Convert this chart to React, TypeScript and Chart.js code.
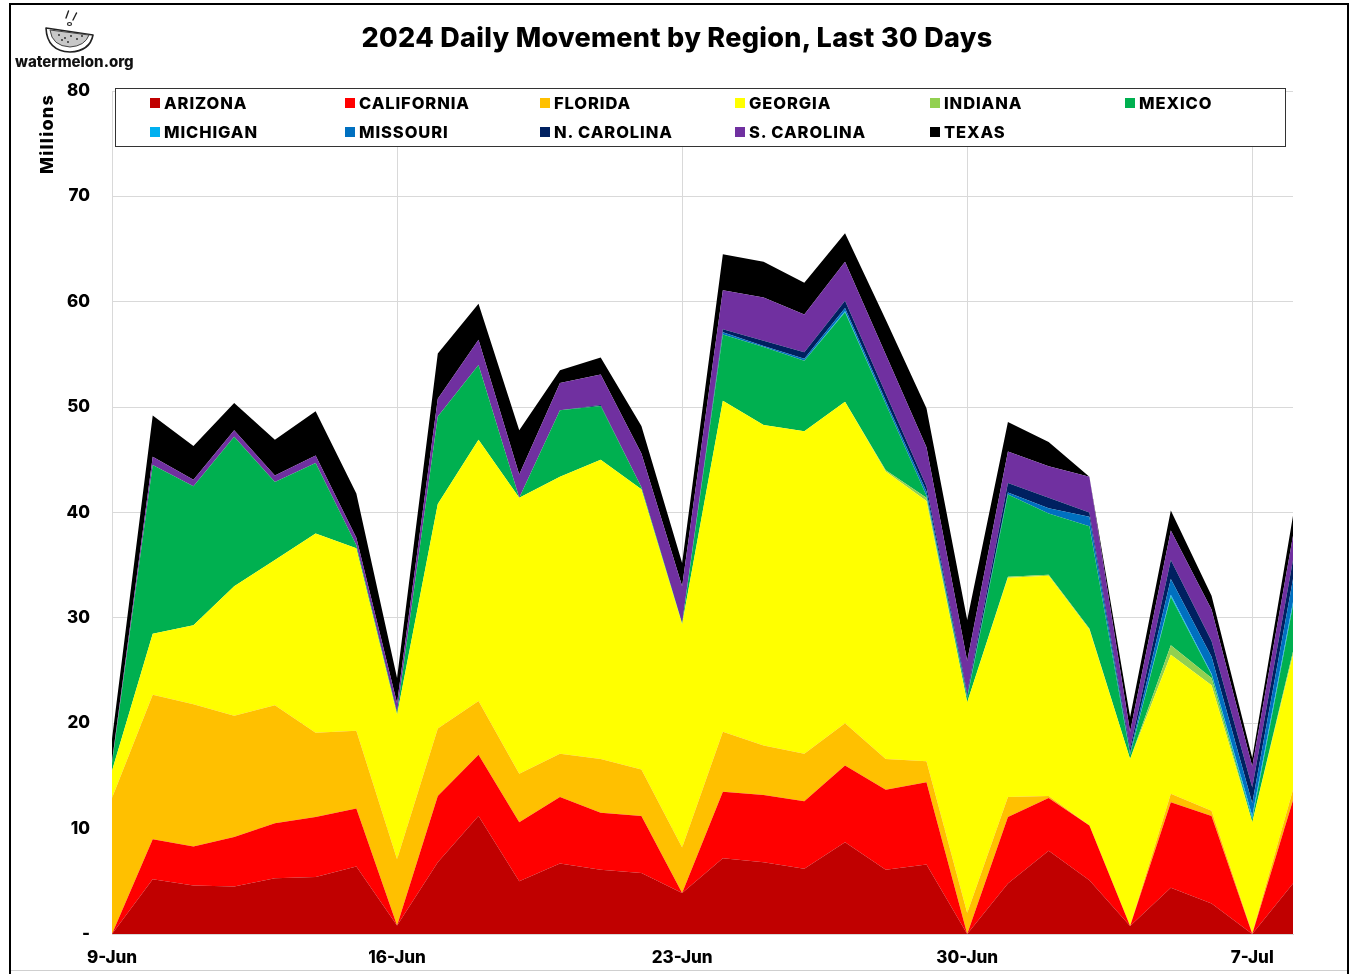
import React, { useEffect, useRef } from 'react';
import { Chart, registerables } from 'chart.js';

Chart.register(...registerables);

const LABELS = [
  '9-Jun', '10-Jun', '11-Jun', '12-Jun', '13-Jun', '14-Jun', '15-Jun',
  '16-Jun', '17-Jun', '18-Jun', '19-Jun', '20-Jun', '21-Jun', '22-Jun',
  '23-Jun', '24-Jun', '25-Jun', '26-Jun', '27-Jun', '28-Jun', '29-Jun',
  '30-Jun', '1-Jul', '2-Jul', '3-Jul', '4-Jul', '5-Jul', '6-Jul',
  '7-Jul', '8-Jul',
];
const LABEL_EVERY = 7;

const REGIONS = [
  'ARIZONA', 'CALIFORNIA', 'FLORIDA', 'GEORGIA', 'INDIANA', 'MEXICO',
  'MICHIGAN', 'MISSOURI', 'N. CAROLINA', 'S. CAROLINA', 'TEXAS',
];
const COLORS = [
  '#C00000', '#FF0000', '#FFC000', '#FFFF00', '#92D050', '#00B050',
  '#00B0F0', '#0070C0', '#002060', '#7030A0', '#000000',
];

// values in millions
const ARIZONA = [0, 5.2, 4.6, 4.5, 5.3, 5.4, 6.4, 0.8, 6.8, 11.2, 5.0, 6.7, 6.1, 5.8, 3.9, 7.2, 6.8, 6.2, 8.7, 6.1, 6.6, 0, 4.8, 7.9, 5.1, 0.75, 4.4, 2.9, 0, 4.8];
const CALIFORNIA = [0, 3.8, 3.7, 4.7, 5.2, 5.7, 5.5, 0, 6.3, 5.8, 5.6, 6.3, 5.4, 5.4, 0, 6.3, 6.4, 6.4, 7.3, 7.6, 7.8, 0, 6.3, 5.0, 5.2, 0, 8.1, 8.3, 0, 7.9];
const FLORIDA = [12.9, 13.7, 13.5, 11.5, 11.2, 8.0, 7.4, 6.3, 6.4, 5.1, 4.6, 4.1, 5.1, 4.4, 4.3, 5.7, 4.7, 4.5, 4.0, 2.9, 2.0, 2.0, 1.9, 0.2, 0, 0, 0.8, 0.5, 0.1, 1.0];
const GEORGIA = [2.6, 5.8, 7.5, 12.3, 13.8, 18.9, 17.3, 13.7, 21.3, 24.8, 26.2, 26.3, 28.4, 26.6, 21.2, 31.4, 30.4, 30.6, 30.5, 27.3, 24.7, 20.0, 20.8, 20.9, 18.6, 15.85, 13.2, 11.9, 10.5, 12.8];
const INDIANA = [0, 0, 0, 0, 0, 0, 0, 0, 0, 0, 0, 0, 0, 0, 0, 0, 0, 0, 0, 0.1, 0.3, 0, 0.1, 0.1, 0.1, 0, 0.9, 0.7, 0, 0.3];
const MEXICO = [0.7, 16.0, 13.2, 14.2, 7.4, 6.7, 0.3, 0.2, 8.3, 7.1, 0, 6.3, 5.1, 0.2, 0.1, 6.3, 7.4, 6.7, 8.5, 6.3, 0.2, 0.4, 7.8, 5.8, 9.7, 0.4, 4.6, 0.3, 0.3, 4.4];
const MICHIGAN = [0, 0, 0, 0, 0, 0, 0, 0, 0, 0, 0, 0, 0, 0, 0, 0, 0, 0, 0.1, 0, 0, 0, 0, 0, 0, 0, 0.2, 0.1, 0.3, 0.3];
const MISSOURI = [0, 0, 0, 0, 0, 0, 0, 0, 0, 0, 0, 0, 0, 0, 0, 0.2, 0.1, 0.2, 0.3, 0.3, 0.4, 0.2, 0.2, 0.5, 0.9, 0.2, 1.5, 1.6, 1.2, 2.2];
const N_CAROLINA = [0, 0, 0, 0, 0, 0, 0, 0, 0, 0, 0, 0, 0.1, 0, 0, 0.3, 0.5, 0.6, 0.7, 0.7, 0.5, 0.3, 0.9, 1.0, 0.4, 0.4, 1.8, 1.5, 1.5, 1.8];
const S_CAROLINA = [0.2, 0.8, 0.6, 0.6, 0.6, 0.7, 0.7, 0.9, 1.7, 2.4, 2.2, 2.6, 2.9, 3.2, 3.5, 3.7, 4.1, 3.6, 3.7, 3.7, 3.7, 3.0, 3.0, 3.0, 3.4, 1.6, 2.8, 3.0, 2.0, 2.3];
const TEXAS = [2.1, 3.9, 3.2, 2.6, 3.4, 4.2, 4.2, 2.4, 4.3, 3.4, 4.2, 1.2, 1.6, 2.6, 2.2, 3.4, 3.4, 3.0, 2.7, 3.3, 3.7, 3.9, 2.8, 2.3, 0, 1.4, 1.9, 1.3, 0.8, 1.9];

const SERIES = [
  ARIZONA, CALIFORNIA, FLORIDA, GEORGIA, INDIANA, MEXICO,
  MICHIGAN, MISSOURI, N_CAROLINA, S_CAROLINA, TEXAS,
];

const Y_MIN = 0;
const Y_MAX = 80;
const Y_STEP = 10;

const TITLE = '2024 Daily Movement by Region, Last 30 Days';
const Y_TITLE = 'Millions';

const FONT = "Inter, 'Open Sans', 'Noto Sans', sans-serif";
const W = 1351;
const H = 974;

function Logo() {
  return (
    <div style={{ position: 'absolute', left: 12, top: 8, width: 130, height: 64 }}>
      <svg width="130" height="48" viewBox="0 0 130 48" style={{ position: 'absolute', left: 0, top: 0 }}>
        <line x1="54" y1="10" x2="56.5" y2="3" stroke="#222" strokeWidth="1.4" strokeLinecap="round" />
        <line x1="61" y1="12" x2="64.5" y2="5" stroke="#222" strokeWidth="1.4" strokeLinecap="round" />
        <ellipse cx="57.5" cy="16" rx="2" ry="1.5" fill="none" stroke="#222" strokeWidth="1.2" />
        <path d="M34 20 Q35 43 58 44 Q78 43 81 27 Z" fill="#fff" stroke="#222" strokeWidth="1.6" strokeLinejoin="round" />
        <path d="M38 22 Q40 38 58 39 Q73 38 77 27 Z" fill="#c8c8c8" stroke="#444" strokeWidth="1" />
        <circle cx="47" cy="27" r="0.9" fill="#222" />
        <circle cx="53" cy="30" r="0.9" fill="#222" />
        <circle cx="59" cy="28" r="0.9" fill="#222" />
        <circle cx="65" cy="31" r="0.9" fill="#222" />
        <circle cx="56" cy="34" r="0.9" fill="#222" />
        <circle cx="70" cy="28" r="0.9" fill="#222" />
        <circle cx="50" cy="32" r="0.9" fill="#222" />
      </svg>
      <div style={{ position: 'absolute', left: 3, top: 44, fontFamily: FONT, fontWeight: 800, fontSize: 15, color: '#111', whiteSpace: 'nowrap', letterSpacing: 0 }}>
        watermelon.org
      </div>
    </div>
  );
}

function Legend() {
  const colW = 195;
  return (
    <div style={{ position: 'absolute', left: 115, top: 88, width: 1171, height: 59, border: '1.5px solid #333', background: '#fff', boxSizing: 'border-box' }}>
      {REGIONS.map((name, k) => {
        const col = k % 6;
        const row = Math.floor(k / 6);
        const left = 34 + col * colW;
        const cy = row === 0 ? 14 : 43;
        return (
          <div key={name} style={{ position: 'absolute', left, top: cy - 10, height: 20, display: 'flex', alignItems: 'center', whiteSpace: 'nowrap' }}>
            <span style={{ display: 'inline-block', width: 10, height: 10, background: COLORS[k], marginRight: 4 }} />
            <span style={{ fontFamily: FONT, fontWeight: 800, fontSize: 16.5, letterSpacing: 0.9, color: '#000', lineHeight: '20px' }}>{name}</span>
          </div>
        );
      })}
    </div>
  );
}

export default function App() {
  const canvasRef = useRef<HTMLCanvasElement | null>(null);

  useEffect(() => {
    const canvas = canvasRef.current;
    if (!canvas) return;
    const datasets = SERIES.map((data, k) => ({
      label: REGIONS[k],
      data,
      backgroundColor: COLORS[k],
      borderColor: 'rgba(0,0,0,0)',
      borderWidth: 0,
      pointRadius: 0,
      pointHoverRadius: 0,
      tension: 0,
      fill: k === 0 ? 'origin' : '-1',
    }));
    const chart = new Chart(canvas, {
      type: 'line',
      data: { labels: LABELS, datasets },
      options: {
        animation: false,
        responsive: false,
        maintainAspectRatio: false,
        devicePixelRatio: 1,
        layout: { padding: { left: 0, top: 91, right: 58, bottom: 0 } },
        plugins: {
          legend: { display: false },
          tooltip: { enabled: false },
          title: { display: false },
        },
        scales: {
          x: {
            type: 'category',
            offset: false,
            grid: {
              color: (ctx: any) => (ctx.index % LABEL_EVERY === 0 ? '#d9d9d9' : 'rgba(0,0,0,0)'),
              drawTicks: false,
              lineWidth: 1,
            },
            border: { color: '#d9d9d9' },
            ticks: {
              autoSkip: false,
              maxRotation: 0,
              minRotation: 0,
              padding: 14,
              color: '#000',
              font: { family: FONT, size: 17, weight: 800 },
              callback: (_v: any, i: number) => (i % LABEL_EVERY === 0 ? LABELS[i] : ''),
            },
            afterFit: (s: any) => { s.height = 40; },
          },
          y: {
            stacked: true,
            min: Y_MIN,
            max: Y_MAX,
            grid: { color: '#d9d9d9', drawTicks: false, lineWidth: 1 },
            border: { color: '#d9d9d9' },
            ticks: {
              stepSize: Y_STEP,
              padding: 22,
              color: '#000',
              font: { family: FONT, size: 17, weight: 800 },
              callback: (v: any) => (v === 0 ? '-' : String(v)),
            },
            afterFit: (s: any) => { s.width = 112; },
          },
        },
      } as any,
    });
    return () => chart.destroy();
  }, []);

  return (
    <div style={{ position: 'absolute', left: 0, top: 0, width: W, height: H, overflow: 'hidden', background: '#fff' }}>
      <canvas ref={canvasRef} width={W} height={H} style={{ position: 'absolute', left: 0, top: 0, width: W, height: H }} />
      <div style={{ position: 'absolute', left: 9, top: 3, width: 1340, height: 1000, border: '2.5px solid #000', boxSizing: 'border-box', pointerEvents: 'none' }} />
      <div style={{ position: 'absolute', left: 11, top: 970, width: 1336, height: 1, background: '#cfcfcf' }} />
      <Logo />
      <div style={{ position: 'absolute', left: 0, top: 21, width: 1354, textAlign: 'center', fontFamily: FONT, fontWeight: 800, fontSize: 27, letterSpacing: 0.3, color: '#000', lineHeight: '34px', whiteSpace: 'nowrap' }}>
        {TITLE}
      </div>
      <div style={{ position: 'absolute', left: 47 - 50, top: 134 - 12, width: 100, height: 24, lineHeight: '24px', textAlign: 'center', transform: 'rotate(-90deg)', fontFamily: FONT, fontWeight: 800, fontSize: 18, letterSpacing: 1.2, color: '#000' }}>
        {Y_TITLE}
      </div>
      <Legend />
    </div>
  );
}
